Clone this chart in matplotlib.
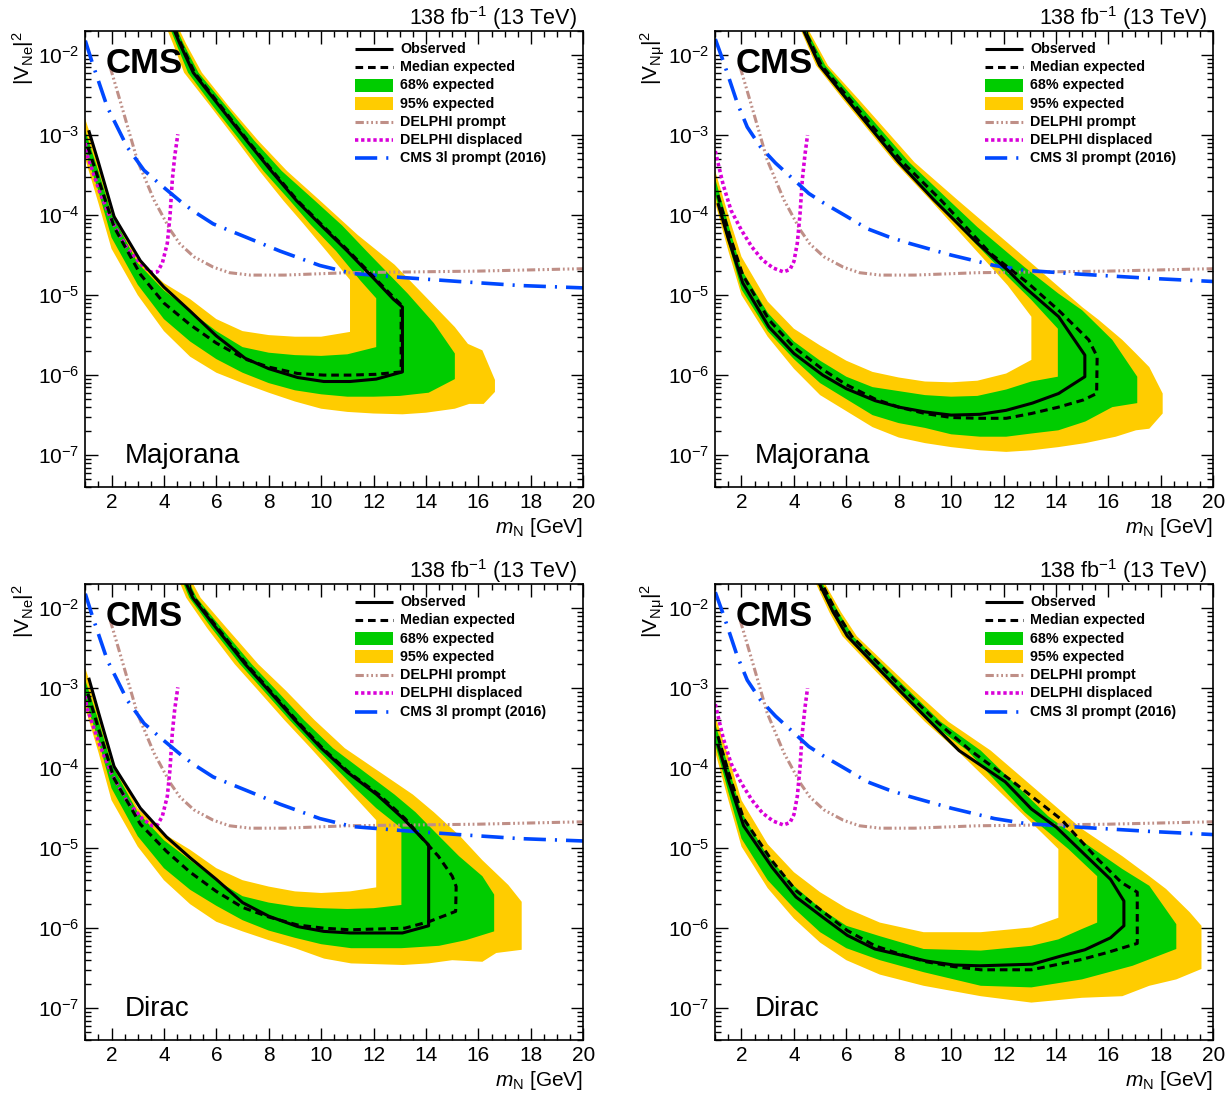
import numpy as np
import matplotlib
matplotlib.use("Agg")
import matplotlib.pyplot as plt
from matplotlib.patches import Rectangle
from matplotlib.ticker import MultipleLocator, FixedLocator, LogLocator, FuncFormatter, NullFormatter

plt.rcParams['font.family'] = ['Liberation Sans', 'DejaVu Sans']
plt.rcParams['mathtext.fontset'] = 'custom'
plt.rcParams['mathtext.rm'] = 'Liberation Sans'
plt.rcParams['mathtext.it'] = 'Liberation Sans:italic'
plt.rcParams['mathtext.bf'] = 'Liberation Sans:bold'
plt.rcParams['lines.scale_dashes'] = False

# ---------------------------------------------------------------------------
# Data: closed exclusion contours, points are (m_N [GeV], log10 |V|^2).
# Each contour runs along the lower branch (low -> high mass) and then back
# along the upper branch until it leaves the top of the plot.
# ---------------------------------------------------------------------------

# ---- Majorana, electron ----
maj_e_obs = [(1.13, -2.94), (1.5, -3.34), (2.1, -4.02), (3.1, -4.57), (4.0, -4.90), (5.0, -5.20),
             (6.0, -5.51), (7.1, -5.79), (8.0, -5.92), (9.1, -6.03), (10.1, -6.08), (11.1, -6.08),
             (12.1, -6.05), (13.1, -5.96), (13.1, -5.15), (12.75, -5.05), (12.0, -4.79), (11.0, -4.45),
             (10.0, -4.13), (9.06, -3.82), (8.1, -3.45), (7.16, -3.07), (6.1, -2.63), (5.12, -2.22),
             (4.61, -1.86), (4.3, -1.62)]
maj_e_exp = [(1.1, -3.15), (1.5, -3.55), (2.1, -4.15), (3.1, -4.74), (4.0, -5.10), (5.0, -5.37),
             (6.0, -5.60), (7.1, -5.80), (8.0, -5.90), (9.1, -5.98), (10.1, -6.00), (11.1, -6.00),
             (12.1, -5.99), (13.05, -5.96), (13.05, -5.12), (12.8, -5.04), (12.05, -4.79), (11.05, -4.45),
             (10.05, -4.13), (9.1, -3.82), (8.15, -3.45), (7.2, -3.07), (6.15, -2.63), (5.17, -2.22),
             (4.65, -1.86), (4.33, -1.62)]
maj_e_p2 = [(1.0, -2.80), (1.5, -3.30), (2.0, -3.92), (3.0, -4.55), (4.0, -4.85), (5.0, -5.05),
            (6.0, -5.30), (7.0, -5.45), (8.0, -5.50), (9.0, -5.52), (10.0, -5.52), (11.1, -5.46),
            (11.1, -4.81), (10.2, -4.45), (9.3, -4.10), (8.56, -3.82), (7.65, -3.45), (6.78, -3.07),
            (5.75, -2.63), (4.77, -2.22), (4.35, -1.86), (4.05, -1.62)]
maj_e_p1 = [(1.0, -2.95), (1.5, -3.45), (2.0, -3.98), (3.0, -4.60), (4.0, -4.94), (5.0, -5.20),
            (6.0, -5.45), (7.0, -5.65), (8.0, -5.72), (9.0, -5.75), (10.0, -5.76), (11.0, -5.74),
            (12.1, -5.65), (12.1, -5.04), (11.5, -4.82), (10.57, -4.45), (9.6, -4.12), (8.81, -3.82),
            (7.8, -3.45), (6.91, -3.07), (5.85, -2.63), (4.92, -2.22), (4.47, -1.86), (4.18, -1.62)]
maj_e_m1 = [(1.0, -3.20), (1.5, -3.70), (2.0, -4.28), (3.0, -4.87), (4.0, -5.30), (5.0, -5.58),
            (6.0, -5.80), (7.0, -5.97), (8.0, -6.10), (9.0, -6.19), (10.0, -6.24), (11.0, -6.27),
            (12.0, -6.27), (13.0, -6.26), (14.1, -6.22), (15.1, -6.05), (15.1, -5.73), (14.3, -5.35),
            (13.3, -4.98), (11.73, -4.45), (10.8, -4.13), (9.76, -3.82), (8.5, -3.45), (7.45, -3.07),
            (6.35, -2.63), (5.32, -2.22), (4.75, -1.86), (4.42, -1.62)]
maj_e_m2 = [(1.0, -3.30), (1.5, -3.85), (2.0, -4.42), (3.0, -5.00), (4.0, -5.45), (5.0, -5.77),
            (6.0, -5.97), (7.0, -6.10), (8.0, -6.22), (9.0, -6.33), (10.0, -6.42), (11.0, -6.46),
            (12.0, -6.48), (13.1, -6.49), (14.0, -6.47), (15.1, -6.42), (15.65, -6.36), (16.2, -6.36),
            (16.63, -6.21), (16.63, -6.06), (16.15, -5.69), (15.6, -5.61), (15.1, -5.40), (14.1, -5.06),
            (12.8, -4.62), (11.4, -4.25), (9.96, -3.82), (8.7, -3.45), (7.6, -3.07), (6.45, -2.63),
            (5.45, -2.22), (4.85, -1.86), (4.5, -1.62)]

# ---- Majorana, muon ----
maj_mu_obs = [(1.1, -3.85), (1.5, -4.30), (2.05, -4.85), (3.05, -5.40), (4.0, -5.73), (5.1, -6.00),
              (6.0, -6.17), (7.1, -6.32), (8.0, -6.40), (9.0, -6.46), (10.0, -6.50), (11.1, -6.49),
              (12.1, -6.44), (13.1, -6.35), (14.1, -6.23), (15.1, -6.02), (15.1, -5.75), (14.1, -5.27),
              (12.8, -4.90), (12.16, -4.69), (11.0, -4.35), (9.34, -3.81), (8.0, -3.34), (6.04, -2.56),
              (4.98, -2.13), (4.38, -1.70), (4.2, -1.55)]
maj_mu_exp = [(1.1, -3.75), (1.5, -4.20), (2.05, -4.75), (3.05, -5.31), (4.0, -5.65), (5.1, -5.93),
              (6.0, -6.12), (7.1, -6.30), (8.0, -6.40), (9.0, -6.48), (10.0, -6.53), (11.1, -6.54),
              (12.1, -6.54), (13.06, -6.48), (14.1, -6.40), (15.05, -6.31), (15.55, -6.23), (15.57, -5.77),
              (15.25, -5.56), (14.1, -5.19), (12.93, -4.85), (11.5, -4.48), (9.6, -3.81), (8.15, -3.34),
              (6.15, -2.56), (5.05, -2.13), (4.43, -1.70), (4.25, -1.55)]
maj_mu_p2 = [(1.0, -3.45), (1.5, -4.00), (2.0, -4.52), (3.0, -5.08), (4.0, -5.42), (5.0, -5.63),
             (6.0, -5.82), (7.0, -5.96), (8.0, -6.03), (9.0, -6.08), (10.0, -6.09), (11.0, -6.07),
             (12.1, -5.98), (13.06, -5.81), (13.06, -5.27), (12.16, -4.88), (9.2, -3.81), (7.85, -3.34),
             (5.89, -2.56), (4.85, -2.13), (4.28, -1.70), (4.1, -1.55)]
maj_mu_p1 = [(1.0, -3.55), (1.5, -4.12), (2.0, -4.68), (3.0, -5.22), (4.0, -5.58), (5.0, -5.82),
             (6.0, -6.02), (7.0, -6.15), (8.0, -6.20), (9.0, -6.25), (10.0, -6.27), (11.0, -6.26),
             (12.1, -6.18), (13.06, -6.08), (14.07, -6.02), (14.07, -5.42), (13.06, -5.06), (12.16, -4.77),
             (9.3, -3.81), (7.95, -3.34), (5.99, -2.56), (4.94, -2.13), (4.35, -1.70), (4.17, -1.55)]
maj_mu_m1 = [(1.0, -3.75), (1.5, -4.35), (2.0, -4.93), (3.0, -5.45), (4.0, -5.80), (5.0, -6.10),
             (6.0, -6.30), (7.0, -6.50), (8.0, -6.60), (9.0, -6.66), (10.0, -6.74), (11.1, -6.77),
             (12.1, -6.77), (13.06, -6.73), (14.09, -6.69), (15.12, -6.58), (16.15, -6.40), (17.1, -6.35),
             (17.1, -6.02), (16.15, -5.56), (15.0, -5.19), (14.09, -4.98), (12.8, -4.65), (11.0, -4.15),
             (9.9, -3.81), (8.4, -3.34), (6.34, -2.56), (5.2, -2.13), (4.5, -1.70), (4.3, -1.55)]
maj_mu_m2 = [(1.0, -3.85), (1.5, -4.45), (2.0, -5.00), (3.0, -5.52), (4.0, -5.92), (5.0, -6.25),
             (6.0, -6.45), (7.0, -6.65), (8.0, -6.78), (9.0, -6.85), (10.0, -6.90), (11.1, -6.94),
             (12.1, -6.96), (13.06, -6.94), (14.09, -6.90), (15.12, -6.85), (16.28, -6.77), (17.05, -6.69),
             (17.56, -6.67), (18.07, -6.48), (18.07, -6.23), (17.56, -5.90), (17.05, -5.73), (16.53, -5.56),
             (15.63, -5.31), (15.0, -5.15), (13.06, -4.60), (10.24, -3.81), (8.6, -3.34), (6.49, -2.56),
             (5.3, -2.13), (4.58, -1.70), (4.37, -1.55)]

# ---- Dirac, electron ----
dir_e_obs = [(1.13, -2.87), (1.5, -3.30), (2.1, -3.98), (3.1, -4.50), (4.1, -4.86), (5.0, -5.12),
             (6.0, -5.39), (7.0, -5.68), (8.0, -5.85), (9.1, -5.98), (10.1, -6.04), (11.1, -6.06),
             (13.1, -6.06), (14.1, -5.97), (14.1, -4.96), (13.13, -4.63), (12.12, -4.33), (11.0, -4.05),
             (10.0, -3.75), (9.0, -3.40), (8.0, -3.03), (7.1, -2.70), (6.0, -2.25), (5.1, -1.87),
             (4.86, -1.70), (4.7, -1.58)]
dir_e_exp = [(1.1, -3.07), (1.5, -3.50), (2.1, -4.13), (3.1, -4.70), (4.1, -5.04), (5.0, -5.30),
             (6.0, -5.54), (7.0, -5.74), (8.0, -5.86), (9.1, -5.96), (10.1, -6.00), (11.1, -6.02),
             (13.19, -6.00), (14.1, -5.92), (15.13, -5.79), (15.15, -5.48), (15.0, -5.35), (14.47, -5.10),
             (14.05, -4.95), (13.2, -4.63), (12.2, -4.33), (11.05, -4.05), (10.05, -3.75), (9.05, -3.40),
             (8.05, -3.03), (7.15, -2.70), (6.05, -2.25), (5.15, -1.87), (4.9, -1.70), (4.74, -1.58)]
dir_e_p2 = [(1.0, -2.75), (1.5, -3.25), (2.0, -3.88), (3.0, -4.50), (4.0, -4.82), (5.0, -5.02),
            (6.0, -5.25), (7.0, -5.40), (8.0, -5.48), (9.0, -5.54), (10.0, -5.56), (11.1, -5.54),
            (12.1, -5.49), (12.1, -4.65), (11.2, -4.33), (9.6, -3.75), (8.6, -3.40), (7.6, -3.03),
            (6.7, -2.70), (5.65, -2.25), (4.85, -1.87), (4.63, -1.70), (4.48, -1.58)]
dir_e_p1 = [(1.0, -2.90), (1.5, -3.40), (2.0, -3.95), (3.0, -4.55), (4.0, -4.90), (5.0, -5.15),
            (6.0, -5.40), (7.0, -5.60), (8.0, -5.68), (9.0, -5.73), (10.0, -5.75), (11.0, -5.76),
            (12.0, -5.75), (13.06, -5.71), (13.06, -4.75), (12.1, -4.50), (11.3, -4.25), (9.8, -3.75),
            (8.8, -3.40), (7.8, -3.03), (6.9, -2.70), (5.82, -2.25), (4.97, -1.87), (4.75, -1.70),
            (4.6, -1.58)]
dir_e_m1 = [(1.0, -3.15), (1.5, -3.65), (2.0, -4.25), (3.0, -4.85), (4.0, -5.25), (5.0, -5.52),
            (6.0, -5.72), (7.0, -5.90), (8.0, -6.03), (9.0, -6.12), (10.0, -6.20), (11.14, -6.25),
            (13.06, -6.25), (14.5, -6.22), (15.52, -6.15), (16.6, -6.04), (16.6, -5.58), (16.15, -5.35),
            (15.26, -5.10), (14.5, -4.85), (13.6, -4.55), (12.8, -4.33), (10.45, -3.75), (9.35, -3.40),
            (8.3, -3.03), (7.35, -2.70), (6.2, -2.25), (5.25, -1.87), (5.0, -1.70), (4.84, -1.58)]
dir_e_m2 = [(1.0, -3.25), (1.5, -3.80), (2.0, -4.40), (3.0, -4.98), (4.0, -5.40), (5.0, -5.70),
            (6.0, -5.92), (7.0, -6.04), (8.0, -6.15), (9.0, -6.25), (10.11, -6.38), (11.14, -6.44),
            (13.13, -6.46), (14.1, -6.44), (15.0, -6.40), (16.15, -6.42), (16.68, -6.31), (17.65, -6.27),
            (17.65, -5.67), (17.14, -5.46), (16.15, -5.15), (15.3, -4.85), (14.3, -4.55), (13.5, -4.33),
            (10.9, -3.75), (9.75, -3.40), (8.65, -3.03), (7.6, -2.70), (6.4, -2.25), (5.4, -1.87),
            (5.12, -1.70), (4.95, -1.58)]

# ---- Dirac, muon ----
dir_mu_obs = [(1.1, -3.70), (1.5, -4.15), (2.08, -4.72), (3.17, -5.24), (4.08, -5.61), (5.13, -5.87),
              (6.04, -6.09), (7.09, -6.26), (8.0, -6.33), (9.05, -6.41), (10.1, -6.46), (11.1, -6.47),
              (13.1, -6.45), (14.17, -6.35), (15.1, -6.27), (16.08, -6.12), (16.59, -5.97), (16.59, -5.66),
              (16.08, -5.39), (15.0, -5.05), (14.02, -4.74), (13.06, -4.51), (12.06, -4.17), (10.3, -3.78),
              (9.2, -3.42), (8.0, -3.02), (7.0, -2.68), (6.04, -2.35), (5.5, -2.05), (4.98, -1.70),
              (4.8, -1.58)]
dir_mu_exp = [(1.1, -3.60), (1.5, -4.05), (2.08, -4.63), (3.17, -5.16), (4.08, -5.53), (5.13, -5.80),
              (6.04, -6.03), (7.09, -6.22), (8.0, -6.32), (9.05, -6.42), (10.1, -6.48), (11.13, -6.52),
              (13.06, -6.52), (14.99, -6.39), (16.0, -6.30), (17.1, -6.19), (17.1, -5.55), (16.5, -5.43),
              (15.6, -5.14), (14.2, -4.64), (12.4, -4.18), (10.74, -3.78), (9.45, -3.42), (8.2, -3.02),
              (7.2, -2.68), (6.2, -2.35), (5.62, -2.05), (5.08, -1.70), (4.9, -1.58)]
dir_mu_p2 = [(1.0, -3.35), (1.5, -3.85), (2.0, -4.40), (3.0, -4.95), (4.0, -5.30), (5.0, -5.55),
             (6.0, -5.75), (7.28, -5.93), (8.95, -6.05), (11.13, -6.05), (13.06, -5.99), (14.09, -5.87),
             (14.09, -5.01), (13.06, -4.68), (10.23, -3.78), (9.0, -3.42), (7.8, -3.02), (6.8, -2.68),
             (5.85, -2.35), (5.35, -2.05), (4.85, -1.70), (4.68, -1.58)]
dir_mu_p1 = [(1.0, -3.45), (1.5, -3.98), (2.0, -4.55), (3.0, -5.10), (4.0, -5.47), (5.0, -5.75),
             (6.0, -5.97), (7.28, -6.10), (8.95, -6.26), (11.13, -6.28), (13.06, -6.22), (14.09, -6.14),
             (14.99, -6.01), (15.57, -5.93), (15.57, -5.35), (14.47, -5.01), (12.8, -4.55), (10.62, -3.78),
             (9.15, -3.42), (7.95, -3.02), (6.95, -2.68), (5.98, -2.35), (5.45, -2.05), (4.93, -1.70),
             (4.75, -1.58)]
dir_mu_m1 = [(1.0, -3.70), (1.5, -4.30), (2.0, -4.88), (3.0, -5.40), (4.0, -5.75), (5.0, -6.05),
             (6.0, -6.25), (7.28, -6.40), (8.95, -6.55), (11.13, -6.72), (13.06, -6.74), (14.99, -6.64),
             (16.92, -6.47), (18.59, -6.26), (18.59, -5.95), (17.56, -5.47), (16.53, -5.26), (15.25, -4.97),
             (13.7, -4.60), (11.13, -3.78), (9.6, -3.42), (8.35, -3.02), (7.3, -2.68), (6.25, -2.35),
             (5.7, -2.05), (5.1, -1.70), (4.9, -1.58)]
dir_mu_m2 = [(1.0, -3.80), (1.5, -4.40), (2.0, -4.98), (3.0, -5.50), (4.0, -5.88), (5.0, -6.18),
             (6.0, -6.40), (7.28, -6.58), (8.95, -6.72), (11.13, -6.85), (13.06, -6.93), (14.99, -6.87),
             (16.53, -6.85), (17.56, -6.72), (18.59, -6.64), (19.55, -6.51), (19.55, -5.97), (19.1, -5.80),
             (18.2, -5.51), (17.56, -5.35), (16.53, -5.10), (14.99, -4.76), (11.51, -3.78), (9.9, -3.42),
             (8.55, -3.02), (7.45, -2.68), (6.4, -2.35), (5.8, -2.05), (5.2, -1.70), (4.98, -1.58)]

# ---- Previous limits ----
delphi_prompt = [(1.95, -2.15), (2.47, -2.73), (2.98, -3.31), (3.62, -3.81), (4.25, -4.19), (4.61, -4.36),
                 (5.14, -4.52), (5.88, -4.65), (6.5, -4.72), (7.3, -4.75), (8.6, -4.75), (11.0, -4.72),
                 (13.5, -4.71), (16.0, -4.70), (20.0, -4.67)]
delphi_displaced_e = [(1.0, -3.10), (1.05, -3.23), (1.56, -3.72), (2.0, -4.07), (2.59, -4.41), (3.17, -4.63),
                      (3.55, -4.72), (3.75, -4.71), (3.94, -4.60), (4.13, -4.35), (4.23, -4.02), (4.32, -3.56),
                      (4.41, -3.27), (4.53, -2.99)]
delphi_displaced_mu = [(1.0, -3.20), (1.3, -3.62), (1.6, -3.94), (2.0, -4.19), (2.4, -4.40), (2.8, -4.56),
                       (3.2, -4.66), (3.6, -4.71), (3.85, -4.68), (4.0, -4.58), (4.13, -4.35), (4.23, -4.00),
                       (4.32, -3.56), (4.42, -3.25), (4.52, -3.00)]
cms3l_e = [(1.0, -1.82), (1.27, -2.10), (1.84, -2.65), (2.6, -3.15), (3.24, -3.44), (3.87, -3.62),
           (4.6, -3.82), (5.12, -3.95), (5.88, -4.11), (7.16, -4.28), (8.43, -4.45), (9.95, -4.63),
           (11.2, -4.73), (13.1, -4.78), (15.25, -4.83), (17.56, -4.88), (20.0, -4.91)]
cms3l_mu = [(1.0, -1.80), (1.33, -2.10), (1.84, -2.60), (2.22, -2.90), (2.73, -3.15), (3.3, -3.35),
            (3.87, -3.52), (4.57, -3.73), (5.14, -3.85), (6.03, -4.02), (6.8, -4.17), (7.6, -4.27),
            (8.37, -4.35), (10.0, -4.50), (11.65, -4.63), (12.8, -4.69), (15.0, -4.74), (17.56, -4.79),
            (20.0, -4.83)]

legend_labels = ['Observed', 'Median expected', '68% expected', '95% expected',
                 'DELPHI prompt', 'DELPHI displaced', 'CMS 3l prompt (2016)']
y_tick_values = [1e-7, 1e-6, 1e-5, 1e-4, 1e-3, 1e-2]
x_tick_values = [2, 4, 6, 8, 10, 12, 14, 16, 18, 20]

# ---------------------------------------------------------------------------
YELLOW = '#FFCC00'
GREEN = '#00CC00'
C_PROMPT = '#BF8F87'
C_DISP = '#D900D9'
C_CMS = '#0048FF'

st_obs = dict(color='black', lw=2.2, ls='-')
st_exp = dict(color='black', lw=2.2, ls=(0, (5.5, 3.5)))
st_prompt = dict(color=C_PROMPT, lw=2.2, ls=(0, (6, 2, 1.3, 2, 1.3, 2, 1.3, 2)))
st_disp = dict(color=C_DISP, lw=2.6, ls=(0, (2.4, 2.0)))
st_cms = dict(color=C_CMS, lw=2.6, ls=(0, (16, 6.5, 1.5, 6.5)))


def to_xy(pts):
    a = np.asarray(pts, dtype=float)
    return a[:, 0], 10.0 ** a[:, 1]


def fill_region(ax, pts, color, z):
    m, v = to_xy(pts)
    xs = np.concatenate([[0.5], m, [m[-1], 0.5]])
    ys = np.concatenate([[v[0]], v, [1.0, 1.0]])
    ax.fill(xs, ys, color=color, lw=0, zorder=z)


def draw_line(ax, pts, style, z):
    m, v = to_xy(pts)
    ax.plot(m, v, zorder=z, solid_capstyle='butt', dash_capstyle='butt', **style)


def draw_panel(ax, m2, m1, p1, p2, obs, exp, disp, cms, ylab, tag):
    ax.set_yscale('log')
    ax.set_xlim(1, 20)
    ax.set_ylim(4e-8, 2e-2)

    fill_region(ax, m2, YELLOW, 1.0)
    fill_region(ax, m1, GREEN, 1.1)
    fill_region(ax, p1, YELLOW, 1.2)
    fill_region(ax, p2, 'white', 1.3)

    draw_line(ax, delphi_prompt, st_prompt, 3.0)
    draw_line(ax, disp, st_disp, 3.1)
    draw_line(ax, cms, st_cms, 3.2)
    draw_line(ax, exp, st_exp, 3.3)
    draw_line(ax, obs, st_obs, 3.4)

    # axes / ticks
    ax.xaxis.set_major_locator(FixedLocator(x_tick_values))
    ax.xaxis.set_minor_locator(MultipleLocator(0.5))
    ax.yaxis.set_major_locator(FixedLocator(y_tick_values))
    ax.yaxis.set_minor_locator(LogLocator(base=10, subs=np.arange(2, 10) * 1.0, numticks=30))
    ax.yaxis.set_minor_formatter(NullFormatter())
    ax.yaxis.set_major_formatter(FuncFormatter(lambda v, _: r'$10^{%d}$' % int(round(np.log10(v)))))
    ax.tick_params(which='both', direction='in', top=True, right=True, width=1.0, labelsize=15)
    ax.tick_params(which='major', length=9, pad=4)
    ax.tick_params(which='minor', length=4.5)
    for s in ax.spines.values():
        s.set_linewidth(1.2)
        s.set_zorder(5)

    # texts
    ax.text(0.988, 1.013, r'138 fb$^{-1}$ (13 TeV)', transform=ax.transAxes,
            ha='right', va='baseline', fontsize=15.5)
    ax.text(0.041, 0.907, 'CMS', transform=ax.transAxes, ha='left', va='baseline',
            fontsize=25, fontweight='bold', zorder=6)
    ax.text(0.080, 0.052, tag, transform=ax.transAxes, ha='left', va='baseline', fontsize=20, zorder=6)
    ax.text(-0.125, 1.0, ylab, transform=ax.transAxes, ha='center', va='top', rotation=90, fontsize=15)
    ax.text(1.0, -0.100, r'$m_{\mathrm{N}}$ [GeV]', transform=ax.transAxes, ha='right',
            va='baseline', fontsize=15)

    # legend (drawn by hand, ROOT style)
    x0, x1, xt = 0.542, 0.617, 0.632
    y0, dy = 0.9605, 0.0400
    styles = [st_obs, st_exp, None, None, st_prompt, st_disp, st_cms]
    fills = [None, None, GREEN, YELLOW, None, None, None]
    for i, lab in enumerate(legend_labels):
        y = y0 - i * dy
        if styles[i] is not None:
            ax.plot([x0, x1], [y, y], transform=ax.transAxes, clip_on=False, zorder=6,
                    solid_capstyle='butt', dash_capstyle='butt', **styles[i])
        else:
            ax.add_patch(Rectangle((x0, y - 0.014), x1 - x0, 0.028, transform=ax.transAxes,
                                   facecolor=fills[i], edgecolor='none', zorder=6))
        ax.text(xt, y, lab, transform=ax.transAxes, ha='left', va='center',
                fontsize=10.3, fontweight='bold', zorder=6)


fig = plt.figure(figsize=(12.29, 10.95), dpi=100)
W, H = 0.4052, 0.4164
lab_e = r'$|\mathrm{V}_{\mathrm{Ne}}|^{2}$'
lab_mu = r'$|\mathrm{V}_{\mathrm{N\mu}}|^{2}$'

panels = [
    ([0.0694, 0.5553, W, H], maj_e_m2, maj_e_m1, maj_e_p1, maj_e_p2, maj_e_obs, maj_e_exp,
     delphi_displaced_e, cms3l_e, lab_e, 'Majorana'),
    ([0.5820, 0.5553, W, H], maj_mu_m2, maj_mu_m1, maj_mu_p1, maj_mu_p2, maj_mu_obs, maj_mu_exp,
     delphi_displaced_mu, cms3l_mu, lab_mu, 'Majorana'),
    ([0.0694, 0.0502, W, H], dir_e_m2, dir_e_m1, dir_e_p1, dir_e_p2, dir_e_obs, dir_e_exp,
     delphi_displaced_e, cms3l_e, lab_e, 'Dirac'),
    ([0.5820, 0.0502, W, H], dir_mu_m2, dir_mu_m1, dir_mu_p1, dir_mu_p2, dir_mu_obs, dir_mu_exp,
     delphi_displaced_mu, cms3l_mu, lab_mu, 'Dirac'),
]

for pos, m2, m1, p1, p2, obs, exp, disp, cms, ylab, tag in panels:
    ax = fig.add_axes(pos)
    draw_panel(ax, m2, m1, p1, p2, obs, exp, disp, cms, ylab, tag)

fig.savefig('out.png', dpi=100)
